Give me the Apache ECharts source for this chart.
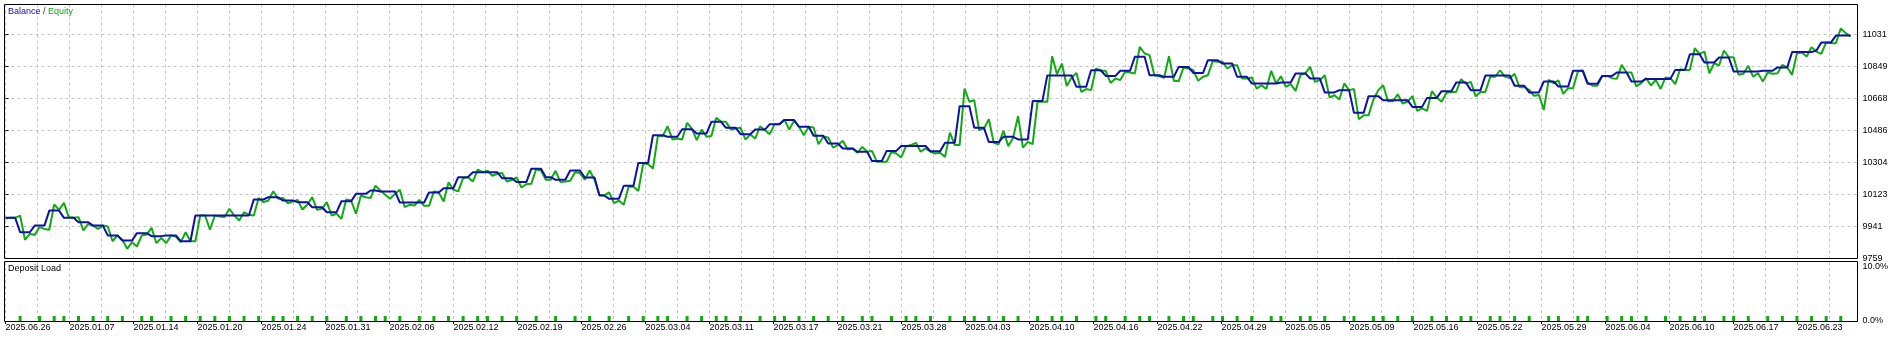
<!DOCTYPE html>
<html>
<head>
<meta charset="utf-8">
<script src="https://cdn.jsdelivr.net/npm/echarts@6/dist/echarts.min.js"></script>
<style>
html,body{margin:0;padding:0;background:#fff;}
#c{width:1902px;height:339px;}
</style>
</head>
<body>
<div id="c"></div>
<script>
// ---------- DATA ----------
const dateLabels = ['2025.06.26','2025.01.07','2025.01.14','2025.01.20','2025.01.24','2025.01.31','2025.02.06','2025.02.12','2025.02.19','2025.02.26','2025.03.04','2025.03.11','2025.03.17','2025.03.21','2025.03.28','2025.04.03','2025.04.10','2025.04.16','2025.04.22','2025.04.29','2025.05.05','2025.05.09','2025.05.16','2025.05.22','2025.05.29','2025.06.04','2025.06.10','2025.06.17','2025.06.23'];
const yTickLabels = ['9759','9941','10123','10304','10486','10668','10849','11031'];
const loadTickLabels = ['0.0%','10.0%'];

const balance = [
9990,9990,9990,9908,9908,9908,9946,9946,9946,10031,
10031,10031,9990,9990,9990,9965,9965,9965,9946,9946,
9946,9890,9890,9890,9861,9861,9861,9903,9903,9903,
9886,9886,9886,9890,9890,9890,9857,9857,9857,10003,
10003,10003,10003,10003,10003,10003,10003,10003,10003,10003,
10003,10094,10094,10094,10107,10107,10107,10088,10088,10088,
10079,10079,10079,10050,10050,10050,10022,10022,10022,10084,
10084,10084,10126,10126,10126,10145,10145,10140,10140,10140,
10140,10077,10077,10077,10077,10077,10077,10134,10134,10134,
10158,10158,10158,10221,10221,10221,10249,10249,10249,10249,
10249,10249,10215,10215,10215,10193,10193,10193,10268,10268,
10268,10221,10221,10206,10206,10206,10259,10259,10259,10219,
10219,10219,10117,10117,10098,10098,10098,10172,10172,10172,
10302,10302,10302,10459,10459,10459,10450,10450,10450,10493,
10493,10493,10469,10469,10469,10535,10535,10535,10501,10501,
10501,10465,10465,10465,10491,10491,10491,10522,10522,10522,
10545,10545,10545,10507,10507,10507,10456,10456,10456,10412,
10412,10412,10384,10384,10384,10365,10365,10365,10312,10312,
10312,10370,10370,10370,10398,10398,10398,10398,10398,10398,
10368,10368,10368,10416,10416,10416,10624,10624,10624,10501,
10501,10501,10420,10420,10420,10450,10450,10450,10435,10435,
10435,10653,10653,10653,10798,10798,10798,10798,10798,10798,
10734,10734,10734,10828,10828,10828,10796,10796,10796,10825,
10825,10825,10904,10904,10904,10800,10800,10800,10791,10791,
10791,10847,10847,10847,10813,10813,10813,10885,10885,10885,
10866,10866,10866,10791,10791,10791,10753,10753,10753,10753,
10753,10753,10758,10758,10758,10810,10810,10810,10781,10781,
10781,10702,10702,10702,10715,10715,10715,10586,10586,10586,
10681,10681,10681,10658,10658,10658,10658,10658,10658,10620,
10620,10620,10671,10671,10671,10709,10709,10709,10758,10758,
10758,10715,10715,10715,10798,10798,10798,10798,10798,10798,
10740,10740,10740,10702,10702,10702,10764,10764,10764,10736,
10736,10736,10825,10825,10825,10751,10751,10751,10796,10796,
10796,10815,10815,10815,10764,10764,10764,10779,10779,10779,
10779,10779,10779,10830,10830,10830,10919,10919,10919,10872,
10872,10872,10900,10900,10900,10821,10821,10821,10821,10821,
10821,10825,10825,10825,10844,10844,10844,10931,10931,10931,
10931,10931,10940,10986,10986,10986,11025,11025,11025,11025
];

const equity = [
9986,9990,9990,10003,9865,9899,9893,9937,9927,9922,
10066,10035,10075,9994,9990,9994,9918,9956,9946,9927,
9946,9941,9857,9890,9865,9814,9852,9827,9890,9895,
9933,9846,9876,9846,9890,9884,9852,9908,9857,9857,
10003,10003,9922,10003,9997,9994,10041,10003,9975,10022,
10007,10003,10103,10079,10088,10141,10098,10103,10073,10082,
10092,10037,10066,10107,10035,10041,10079,10003,10013,9984,
10094,10088,10013,10117,10107,10103,10173,10145,10121,10098,
10126,10149,10051,10064,10060,10092,10058,10058,10140,10134,
10083,10191,10149,10140,10215,10221,10196,10263,10249,10257,
10229,10240,10244,10196,10206,10219,10162,10181,10183,10266,
10259,10206,10206,10257,10193,10196,10200,10249,10244,10206,
10259,10206,10121,10117,10134,10073,10088,10064,10166,10166,
10143,10298,10295,10270,10454,10454,10510,10435,10440,10435,
10529,10497,10431,10491,10450,10454,10558,10535,10535,10491,
10497,10501,10435,10463,10440,10510,10488,10465,10522,10522,
10548,10491,10541,10507,10459,10507,10503,10408,10450,10446,
10389,10403,10427,10378,10384,10359,10393,10365,10370,10308,
10308,10308,10365,10355,10333,10397,10403,10416,10365,10384,
10365,10355,10359,10336,10474,10403,10403,10724,10649,10658,
10488,10497,10550,10416,10408,10484,10397,10446,10567,10389,
10421,10408,10649,10649,10649,10908,10806,10866,10738,10787,
10813,10705,10721,10715,10838,10825,10825,10756,10781,10772,
10819,10815,10810,10961,10923,10914,10800,10794,10785,10908,
10768,10766,10844,10838,10828,10768,10791,10800,10881,10876,
10876,10838,10857,10857,10781,10781,10787,10724,10743,10721,
10825,10753,10794,10734,10749,10711,10800,10810,10847,10762,
10772,10800,10673,10686,10662,10753,10715,10721,10550,10573,
10573,10662,10715,10743,10652,10652,10692,10639,10649,10681,
10597,10611,10597,10709,10673,10649,10700,10705,10705,10777,
10753,10762,10681,10705,10705,10791,10791,10828,10792,10783,
10808,10732,10732,10717,10683,10688,10603,10774,10755,10770,
10694,10726,10726,10821,10827,10758,10740,10740,10796,10796,
10783,10779,10859,10815,10815,10736,10755,10783,10741,10774,
10722,10787,10783,10749,10834,10830,10830,10953,10921,10934,
10811,10868,10855,10940,10902,10902,10802,10808,10853,10792,
10811,10764,10815,10808,10811,10859,10844,10802,10925,10929,
10906,10959,10934,10921,10986,10982,10982,11065,11039,11020
];

// deposit load: deal index and load in %
const depositIdx = [3,7,10,12,15,18,21,24,28,30,34,37,40,43,46,49,52,55,57,60,63,66,70,73,76,78,
81,85,88,91,94,97,99,102,105,109,113,117,120,124,128,131,134,136,140,143,146,148,151,155,158,160,163,166,169,172,176,178,182,185,187,
190,194,197,199,202,205,208,212,215,217,220,224,226,230,233,235,239,242,244,
248,250,253,256,260,262,266,268,271,275,277,281,283,286,289,293,296,299,301,305,307,
310,313,317,319,323,325,329,332,334,337,341,344,347,349,353,355,358,362,365,368,371,374,377];
const depositPct = depositIdx.map(() => 0.85);

// ---------- CHART ----------
const BLUE = '#1010a8';
const GREEN = '#12aa12';
const FONT = 'Liberation Sans';
const GRIDC = '#c4c4c4';

const yMin = 9759, yStep = 181.714, yMax = 9759 + 254 * yStep / 32;
const cats = balance.map((_, i) => i);
const loadData = cats.map(() => null);
depositIdx.forEach((k, j) => { loadData[k] = depositPct[j]; });

const chart = echarts.init(document.getElementById('c'), null, {renderer: 'canvas'});
const txt = {fontFamily: FONT, fontSize: 9, color: '#000'};

chart.setOption({
  animation: false,
  backgroundColor: '#fff',
  title: [
    {text: '{b|Balance} {s|/} {e|Equity}', left: 8, top: 7, padding: 0,
     textStyle: {fontFamily: FONT, fontSize: 9, fontWeight: 'normal',
       rich: {b: {color: BLUE, fontFamily: FONT, fontSize: 9},
              s: {color: '#333', fontFamily: FONT, fontSize: 9},
              e: {color: GREEN, fontFamily: FONT, fontSize: 9}}}},
    {text: 'Deposit Load', left: 8, top: 264, padding: 0,
     textStyle: {fontFamily: FONT, fontSize: 9, fontWeight: 'normal', color: '#000'}}
  ],
  grid: [
    {left: 5.5, top: 4.5, width: 1852, height: 254},
    {left: 5.5, top: 4.5, width: 1845, height: 254},
    {left: 5.5, top: 262, width: 1852, height: 59},
    {left: 5.5, top: 262, width: 1845, height: 59}
  ],
  xAxis: [
    {gridIndex: 0, type: 'value', min: 0, max: 1852, interval: 32,
     axisLine: {show: false}, axisTick: {show: false}, axisLabel: {show: false},
     splitLine: {show: true, lineStyle: {color: GRIDC, type: [3, 3], width: 1}}},
    {gridIndex: 1, type: 'category', data: cats, boundaryGap: false, show: false},
    {gridIndex: 2, type: 'value', min: 0, max: 1852, interval: 32,
     axisLine: {show: false}, axisTick: {show: false}, axisLabel: {show: false},
     splitLine: {show: true, lineStyle: {color: GRIDC, type: [3, 3], width: 1}}},
    {gridIndex: 2, type: 'value', min: 0, max: 1852, interval: 64, position: 'bottom',
     axisLine: {show: false},
     axisTick: {show: true, length: 3, lineStyle: {color: '#000'}},
     splitLine: {show: false},
     axisLabel: Object.assign({}, txt, {margin: 2, align: 'left', showMinLabel: true, showMaxLabel: false,
       formatter: v => { const k = v / 64; return Number.isInteger(k) && dateLabels[k] ? dateLabels[k] : ''; }})},
    {gridIndex: 3, type: 'category', data: cats, boundaryGap: false, show: false}
  ],
  yAxis: [
    {gridIndex: 0, type: 'value', min: yMin, max: yMax, interval: yStep, position: 'right',
     axisLine: {show: false},
     axisTick: {show: true, length: 3, lineStyle: {color: '#000'}},
     splitLine: {show: true, lineStyle: {color: GRIDC, type: [3, 3], width: 1}},
     axisLabel: Object.assign({}, txt, {margin: 5, align: 'left', showMinLabel: true,
       formatter: v => { const k = (v - yMin) / yStep; const r = Math.round(k);
         return Math.abs(k - r) < 0.01 && yTickLabels[r] ? yTickLabels[r] : ''; }})},
    {gridIndex: 1, type: 'value', min: yMin, max: yMax, show: false},
    {gridIndex: 2, type: 'value', min: 0, max: 10, interval: 10, position: 'right',
     axisLine: {show: false}, axisTick: {show: false}, splitLine: {show: false},
     axisLabel: Object.assign({}, txt, {margin: 5, align: 'left', showMinLabel: true, showMaxLabel: true,
       formatter: v => v >= 10 ? '{t|' + loadTickLabels[1] + '}' : loadTickLabels[0],
       rich: {t: {fontFamily: FONT, fontSize: 9, color: '#000', padding: [10, 0, 0, 0]}}})},
    {gridIndex: 3, type: 'value', min: 0, max: 10, show: false}
  ],
  graphic: [
    {type: 'rect', z: 100, silent: true, shape: {x: 4.5, y: 4.5, width: 1853, height: 254},
     style: {fill: null, stroke: '#000', lineWidth: 1}},
    {type: 'rect', z: 100, silent: true, shape: {x: 4.5, y: 261.5, width: 1853, height: 60},
     style: {fill: null, stroke: '#000', lineWidth: 1}}
  ],
  series: [
    {name: 'Equity', type: 'line', xAxisIndex: 1, yAxisIndex: 1, data: equity,
     showSymbol: false, symbol: 'none', z: 2,
     lineStyle: {color: GREEN, width: 2}, itemStyle: {color: GREEN}},
    {name: 'Balance', type: 'line', xAxisIndex: 1, yAxisIndex: 1, data: balance,
     showSymbol: false, symbol: 'none', z: 3,
     lineStyle: {color: BLUE, width: 2}, itemStyle: {color: BLUE}},
    {name: 'Deposit Load', type: 'bar', xAxisIndex: 4, yAxisIndex: 3, data: loadData,
     barWidth: 3, itemStyle: {color: GREEN}}
  ]
});
</script>
</body>
</html>
